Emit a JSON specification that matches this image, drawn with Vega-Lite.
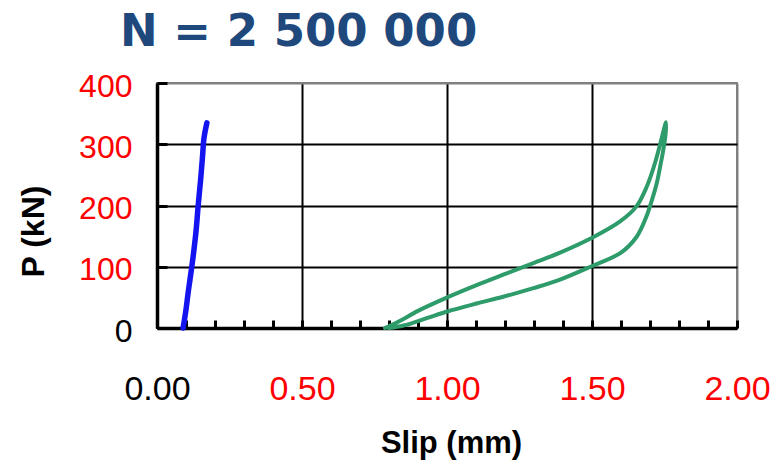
{
  "$schema": "https://vega.github.io/schema/vega-lite/v6.json",
  "width": 580,
  "height": 245,
  "autosize": "none",
  "padding": {"left": 157, "top": 83, "right": 46, "bottom": 133},
  "background": "white",
  "config": {
    "view": {"stroke": "#808080", "strokeWidth": 2},
    "font": "Liberation Sans"
  },
  "title": {
    "text": "N = 2 500 000",
    "font": "DejaVu Sans",
    "fontSize": 45,
    "fontWeight": "bold",
    "color": "#1F497D",
    "anchor": "start",
    "frame": "group",
    "dx": -37,
    "offset": 15
  },
  "data": {
    "values": [
      {"series": "A", "i": 0, "slip": 0.09, "p": 0},
      {"series": "A", "i": 1, "slip": 0.1, "p": 30},
      {"series": "A", "i": 2, "slip": 0.108, "p": 60},
      {"series": "A", "i": 3, "slip": 0.12, "p": 100},
      {"series": "A", "i": 4, "slip": 0.128, "p": 130},
      {"series": "A", "i": 5, "slip": 0.135, "p": 160},
      {"series": "A", "i": 6, "slip": 0.142, "p": 200},
      {"series": "A", "i": 7, "slip": 0.15, "p": 240},
      {"series": "A", "i": 8, "slip": 0.157, "p": 280},
      {"series": "A", "i": 9, "slip": 0.162, "p": 310},
      {"series": "A", "i": 10, "slip": 0.172, "p": 335},
      {"series": "B", "i": 0, "slip": 0.786, "p": 0},
      {"series": "B", "i": 1, "slip": 0.835, "p": 11},
      {"series": "B", "i": 2, "slip": 0.9, "p": 28},
      {"series": "B", "i": 3, "slip": 1.001, "p": 50},
      {"series": "B", "i": 4, "slip": 1.102, "p": 70},
      {"series": "B", "i": 5, "slip": 1.194, "p": 87},
      {"series": "B", "i": 6, "slip": 1.298, "p": 106},
      {"series": "B", "i": 7, "slip": 1.39, "p": 123},
      {"series": "B", "i": 8, "slip": 1.495, "p": 146},
      {"series": "B", "i": 9, "slip": 1.597, "p": 174},
      {"series": "B", "i": 10, "slip": 1.654, "p": 199},
      {"series": "B", "i": 11, "slip": 1.689, "p": 231},
      {"series": "B", "i": 12, "slip": 1.717, "p": 269},
      {"series": "B", "i": 13, "slip": 1.736, "p": 302},
      {"series": "B", "i": 14, "slip": 1.75, "p": 328},
      {"series": "B", "i": 15, "slip": 1.755, "p": 336},
      {"series": "B", "i": 16, "slip": 1.754, "p": 318},
      {"series": "B", "i": 17, "slip": 1.746, "p": 291},
      {"series": "B", "i": 18, "slip": 1.736, "p": 266},
      {"series": "B", "i": 19, "slip": 1.723, "p": 236},
      {"series": "B", "i": 20, "slip": 1.706, "p": 208},
      {"series": "B", "i": 21, "slip": 1.686, "p": 180},
      {"series": "B", "i": 22, "slip": 1.654, "p": 149},
      {"series": "B", "i": 23, "slip": 1.6, "p": 123},
      {"series": "B", "i": 24, "slip": 1.495, "p": 100},
      {"series": "B", "i": 25, "slip": 1.39, "p": 79},
      {"series": "B", "i": 26, "slip": 1.298, "p": 65},
      {"series": "B", "i": 27, "slip": 1.194, "p": 51},
      {"series": "B", "i": 28, "slip": 1.102, "p": 40},
      {"series": "B", "i": 29, "slip": 1.001, "p": 27},
      {"series": "B", "i": 30, "slip": 0.93, "p": 16},
      {"series": "B", "i": 31, "slip": 0.85, "p": 4},
      {"series": "B", "i": 32, "slip": 0.8, "p": 0}
    ]
  },
  "resolve": {"axis": {"x": "independent", "y": "independent"}},
  "layer": [
    {
      "mark": {"type": "line", "opacity": 0},
      "encoding": {
        "x": {
          "field": "slip", "type": "quantitative",
          "scale": {"domain": [0, 2], "nice": false, "zero": false},
          "axis": {
            "orient": "bottom",
            "values": [0, 0.1, 0.2, 0.3, 0.4, 0.5, 0.6, 0.7, 0.8, 0.9, 1, 1.1, 1.2, 1.3, 1.4, 1.5, 1.6, 1.7, 1.8, 1.9, 2],
            "labels": false, "grid": false, "domain": false,
            "ticks": true, "tickSize": -8, "tickWidth": 3, "tickColor": "black",
            "title": null
          }
        },
        "y": {
          "field": "p", "type": "quantitative",
          "scale": {"domain": [0, 400], "nice": false},
          "axis": {
            "orient": "left",
            "values": [0, 100, 200, 300, 400],
            "labels": false, "grid": false, "domain": false,
            "ticks": true, "tickSize": -10, "tickWidth": 3, "tickColor": "black",
            "title": null
          }
        },
        "detail": {"field": "series"},
        "order": {"field": "i", "type": "quantitative"}
      }
    },
    {
      "mark": {"type": "line", "strokeJoin": "round", "strokeCap": "round", "interpolate": "catmull-rom"},
      "encoding": {
        "x": {
          "field": "slip", "type": "quantitative",
          "scale": {"domain": [0, 2], "nice": false, "zero": false},
          "axis": {
            "orient": "bottom",
            "values": [0, 0.5, 1, 1.5, 2],
            "format": ".2f",
            "labelFont": "Liberation Sans",
            "labelFontSize": 34,
            "labelColor": {"condition": {"test": "datum.value == 0", "value": "black"}, "value": "#FF0000"},
            "labelPadding": 44,
            "labelFlush": false,
            "labelOverlap": false,
            "ticks": false,
            "grid": true,
            "gridColor": {"condition": {"test": "datum.value == 2", "value": "#808080"}, "value": "black"},
            "gridWidth": 2,
            "gridOpacity": 1,
            "domain": true,
            "domainColor": "black",
            "domainWidth": 3.5,
            "title": "Slip (mm)",
            "titleFont": "Liberation Sans",
            "titleFontSize": 31,
            "titleFontWeight": "bold",
            "titleColor": "black",
            "titleX": 294,
            "titleY": 124,
            "titleBaseline": "alphabetic",
            "titleAlign": "center"
          }
        },
        "y": {
          "field": "p", "type": "quantitative",
          "scale": {"domain": [0, 400], "nice": false},
          "axis": {
            "orient": "left",
            "values": [0, 100, 200, 300, 400],
            "format": "d",
            "labelFont": "Liberation Sans",
            "labelFontSize": 32,
            "labelColor": {"condition": {"test": "datum.value == 0", "value": "black"}, "value": "#FF0000"},
            "labelPadding": 25,
            "labelOffset": 3,
            "labelFlush": false,
            "labelOverlap": false,
            "ticks": false,
            "grid": true,
            "gridColor": {"condition": {"test": "datum.value == 400", "value": "#808080"}, "value": "black"},
            "gridWidth": 2,
            "gridOpacity": 1,
            "domain": true,
            "domainColor": "black",
            "domainWidth": 3.5,
            "title": "P (kN)",
            "titleFont": "Liberation Sans",
            "titleFontSize": 32,
            "titleFontWeight": "bold",
            "titleColor": "black",
            "titleAngle": -90,
            "titleX": -124,
            "titleY": 148,
            "titleAlign": "center",
            "titleBaseline": "middle"
          }
        },
        "color": {
          "field": "series", "type": "nominal",
          "scale": {"domain": ["A", "B"], "range": ["#1414F0", "#2E9B6A"]},
          "legend": null
        },
        "strokeWidth": {
          "field": "series", "type": "nominal",
          "scale": {"domain": ["A", "B"], "range": [5.5, 4]},
          "legend": null
        },
        "order": {"field": "i", "type": "quantitative"}
      }
    }
  ]
}
